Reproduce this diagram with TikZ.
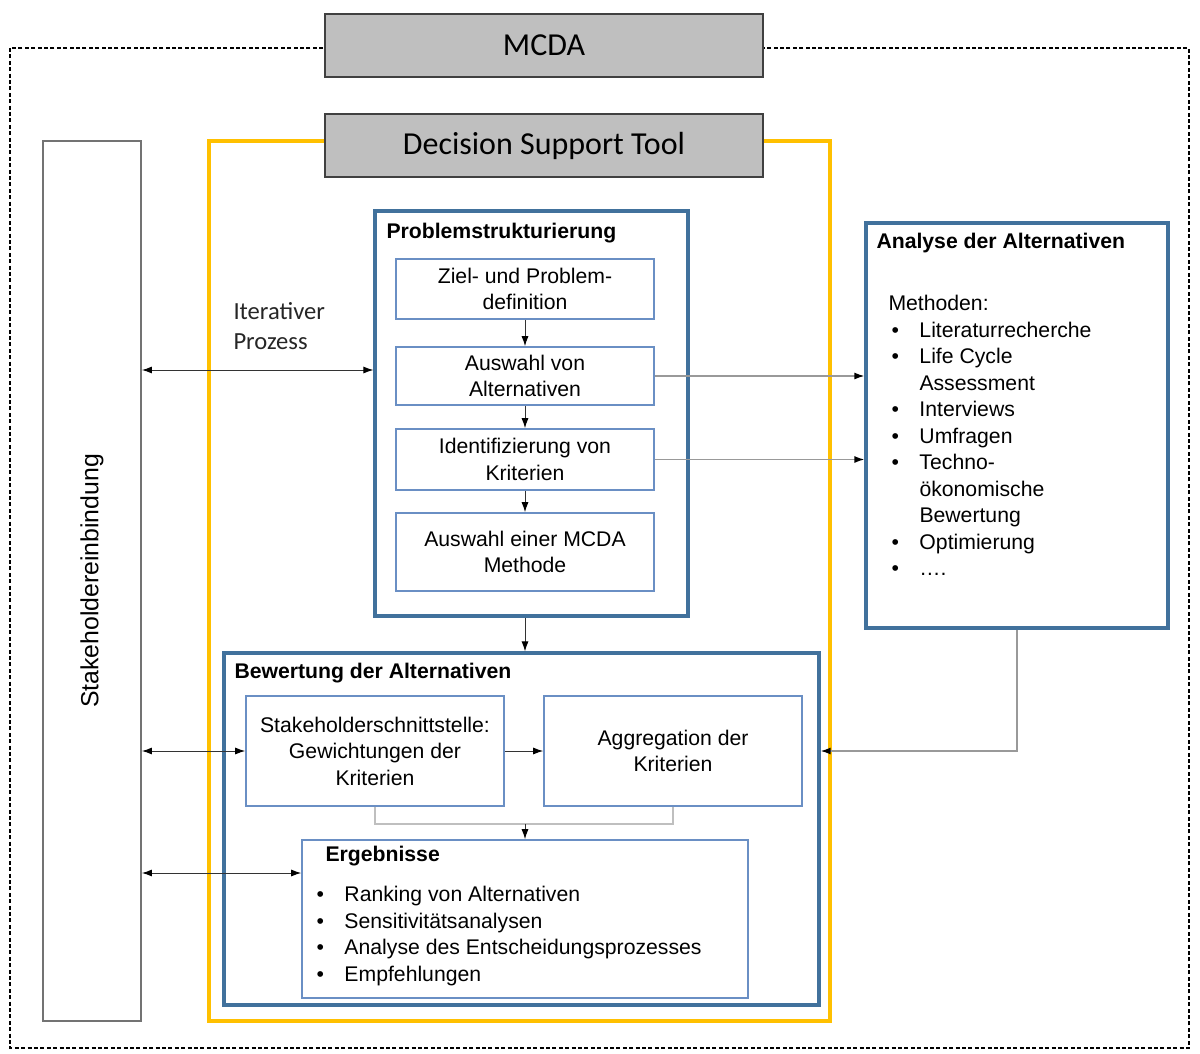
\documentclass[tikz,border=0pt]{standalone}
\usepackage{fontspec}
\setmainfont{Liberation Sans}
\newfontfamily\calib{Carlito}
\usetikzlibrary{arrows.meta}
\definecolor{bblue}{HTML}{41719C}
\definecolor{lblue}{HTML}{6A8FC4}
\definecolor{ygold}{HTML}{FFC000}
\definecolor{tgray}{HTML}{BFBFBF}
\newcommand{\bul}[1]{\hspace*{1.5pt}\makebox[14pt][l]{•}#1}

\begin{document}
\begin{tikzpicture}[x=0.5pt, y=-0.5pt, line width = 0.5pt,
    every node/.style={font=\fontsize{10.6}{13.25}\selectfont},
    headbox/.style={draw=black!75, fill=tgray, line width=1pt, inner sep=0pt,
        font=\calib\fontsize{16}{19}\selectfont},
    bigbox/.style={draw=bblue, line width=1.6pt, inner sep=0pt},
    smallbox/.style={draw=lblue, line width=0.8pt, align=center, inner sep=0pt},
    head/.style={anchor=base west, inner sep=0pt, font=\bfseries\fontsize{10.6}{13.25}\selectfont},
    arr/.style={-{Latex[length=5pt,width=3.5pt,black]}, black!80},
    dbl/.style={{Latex[length=5pt,width=3.5pt,black]}-{Latex[length=5pt,width=3.5pt,black]}, black!80},
    garr/.style={-{Latex[length=5pt,width=3.5pt,black]}, black!40, line width=0.7pt}]
\useasboundingbox (0,0) rectangle (1200,1054);
% frames
\draw[dashed, line width=0.6pt, dash pattern=on 2pt off 1.2pt] (10,48) rectangle (1189,1048);
\draw[ygold, line width=1.6pt] (209,141) rectangle (830,1021);
\node[headbox, minimum width=219pt, minimum height=31.5pt] (mcda) at (544,45.5) {MCDA};
\node[headbox, minimum width=219pt, minimum height=31.5pt] (dst) at (544,145.5) {Decision Support Tool};
\node[draw=black!55, line width=0.9pt, minimum width=49pt, minimum height=440pt, inner sep=0pt] (stake) at (92,581) {};
\node[rotate=90, font=\fontsize{12.4}{14}\selectfont] (stxt) at (stake.center) {Stakeholdereinbindung};

% Problemstrukturierung
\node[bigbox, minimum width=156.5pt, minimum height=202.5pt] (prob) at (531.5,413.5) {};
\node[head] (probt) at (386,238) {Problemstrukturierung};
\node[smallbox, minimum width=129pt, minimum height=30pt] (ziel) at (525,289) {Ziel- und Problem-\\definition};
\node[smallbox, minimum width=129pt, minimum height=29pt] (ausw) at (525,376) {Auswahl von\\Alternativen};
\node[smallbox, minimum width=129pt, minimum height=30.5pt] (ident) at (525,459.5) {Identifizierung von\\Kriterien};
\node[smallbox, minimum width=129pt, minimum height=39pt] (meth) at (525,552) {Auswahl einer MCDA\\Methode};

% Analyse
\node[bigbox, minimum width=151pt, minimum height=202.5pt] (ana) at (1017,425.5) {};
\node[head] (anat) at (876,249) {Analyse der Alternativen};
\node[anchor=north west, inner sep=0pt, align=left] (anal) at (888,295) {Methoden:\\
    \bul{Literaturrecherche}\\
    \bul{Life Cycle}\\
    \hspace*{15.5pt}Assessment\\
    \bul{Interviews}\\
    \bul{Umfragen}\\
    \bul{Techno-}\\
    \hspace*{15.5pt}ökonomische\\
    \hspace*{15.5pt}Bewertung\\
    \bul{Optimierung}\\
    \bul{….}};

% Bewertung
\node[bigbox, minimum width=297.5pt, minimum height=176pt] (bew) at (521.5,829) {};
\node[head] (bewt) at (234,678) {Bewertung der Alternativen};
\node[smallbox, minimum width=129pt, minimum height=55pt] (gew) at (375,751) {Stakeholderschnittstelle:\\Gewichtungen der\\Kriterien};
\node[smallbox, minimum width=129pt, minimum height=55pt] (agg) at (673,751) {Aggregation der\\Kriterien};
\node[smallbox, minimum width=223pt, minimum height=79pt] (erg) at (525,919) {};
\node[head] (ergt) at (325,861) {Ergebnisse};
\node[anchor=north west, inner sep=0pt, align=left] (ergl) at (313,886) {%
    \bul{Ranking von Alternativen}\\
    \bul{Sensitivitätsanalysen}\\
    \bul{Analyse des Entscheidungsprozesses}\\
    \bul{Empfehlungen}};

\node[anchor=north west, inner sep=0pt, align=left, text=black!85,
    font=\calib\fontsize{12.3}{15}\selectfont] (iter) at (233,302) {Iterativer\\Prozess};

% connectors
\draw[dbl] (stake.east |- 0,370) -- (prob.west |- 0,370);
\draw[arr] (ziel.south) -- (ausw.north);
\draw[arr] (ausw.south) -- (ident.north);
\draw[arr] (ident.south) -- (meth.north);
\draw[garr] (ausw.east) -- (ana.west |- ausw.east);
\draw[garr] (ident.east) -- (ana.west |- ident.east);
\draw[arr] (ziel.south |- prob.south) -- (ziel.south |- bew.north);
\draw[garr] (ana.south) |- (bew.east |- gew.east);
\draw[dbl] (stake.east |- gew.west) -- (gew.west);
\draw[arr] (gew.east) -- (agg.west);
\draw[tgray, line width=0.8pt] (gew.south) -- ++(0,17) coordinate (m1) -| (agg.south);
\draw[arr] (m1 -| erg.north) -- (erg.north);
\draw[dbl] (stake.east |- 0,873) -- (erg.west |- 0,873);
\end{tikzpicture}
\end{document}
